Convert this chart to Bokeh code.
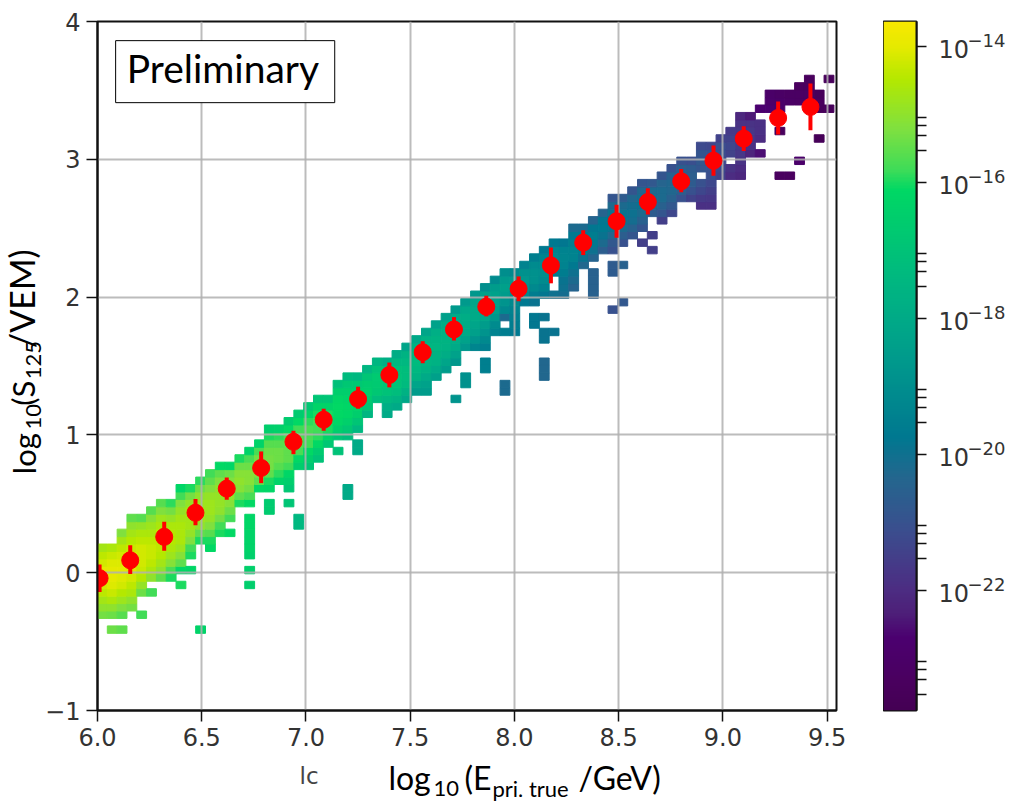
import numpy as np
from bokeh.core.properties import value
from bokeh.embed import file_html
from bokeh.layouts import column, row
from bokeh.models import BoxAnnotation, ColumnDataSource, FixedTicker, LinearColorMapper, NumeralTickFormatter
from bokeh.plotting import figure
from bokeh.resources import INLINE
from bokeh.transform import transform

# === Histogram bins === #
X_EDGE0, X_BIN = 6.0, 0.0471
Y_EDGE0, Y_BIN = -0.008, 0.054

# first (lowest) occupied row of every column, then log10(density) going up; None = empty bin
COL_FIRST_ROW = [-6, -6, -6, -5, -3, -3, -1, -1, 0, 0, 4, 3, 5, 5, 9, 9, 11, 11, 12, 11, 14, 14, 15, 17, 18,
                 18, 19, 21, 23, 21, 22, 23, 24, 24, 26, 27, 28, 30, 30, 30, 32, 32, 32, 36, 36, 37, 37, 37, 38, 41,
                 42, 43, 43, 44, 45, 46, 48, 47, 48, 50, 50, 49, 49, 53, 53, 53, 56, 56, 62, 62, 63, 63, 63, 62, 62]
COL_LOG = [
    [-15.3, -15.0, -14.7, -14.4, -14.2, -14.0, -14.0, -14.2, -14.4, -14.7],
    [-15.4, -15.0, -14.6, -14.3, -14.1, -14.0, -14.0, -14.1, -14.3, -14.6],
    [-15.6, -15.2, -14.8, -14.5, -14.2, -14.1, -14.0, -14.1, -14.2, -14.4, -14.7, -15.2],
    [-15.3, -15.0, -14.6, -14.4, -14.2, -14.1, -14.1, -14.1, -14.3, -14.5, -14.7, -15.0, -15.5],
    [-15.4, -14.9, -14.5, -14.3, -14.2, -14.2, -14.2, -14.4, -14.6, -14.9, -15.6],
    [-15.8, None, -15.0, -14.6, -14.4, -14.3, -14.3, -14.4, -14.6, -14.8, -15.1, -15.6],
    [-15.5, -15.0, -14.7, -14.5, -14.4, -14.4, -14.4, -14.6, -14.8, -15.2, -15.6],
    [-16.0, -15.7, -15.1, -14.8, -14.6, -14.5, -14.5, -14.6, -14.9, -15.3, -15.9],
    [-16.1, -15.5, -15.1, -14.8, -14.6, -14.6, -14.6, -14.7, -14.9, -15.2, -15.8, -16.2],
    [-16.2, None, -16.0, -15.8, -15.2, -14.9, -14.7, -14.7, -14.7, -14.9, -15.3, -16.0],
    [-16.0, -15.5, -15.0, -14.8, -14.8, -14.8, -15.0, -15.4, -15.9],
    [-16.1, -16.0, -15.6, -15.2, -14.9, -14.8, -14.8, -14.9, -15.2, -15.5, -15.8],
    [-16.0, -15.8, -15.3, -15.0, -14.9, -14.9, -15.0, -15.2, -15.5, -16.1],
    [-16.1, None, -15.8, -15.4, -15.1, -15.0, -15.0, -15.2, -15.4, -16.2],
    [-16.0, -15.5, -15.1, -15.0, -15.1, -15.4, -16.0],
    [-16.1, -15.7, -15.3, -15.1, -15.1, -15.4, -15.7, -16.3],
    [-16.1, -15.5, -15.2, -15.2, -15.3, -15.7, -16.3],
    [-16.2, -16.0, -15.5, -15.3, -15.3, -15.4, -15.6, -16.0, -16.5],
    [-16.3, -15.9, -15.6, -15.4, -15.4, -15.6, -15.9, -16.4],
    [-16.8, -16.5, -16.2, -15.8, -15.5, -15.5, -15.5, -15.7, -16.1, -16.6],
    [-16.5, -16.1, -15.7, -15.6, -15.6, -15.8, -16.1, -16.6],
    [-16.9, -16.5, -16.1, -15.8, -15.7, -15.7, -15.9, -16.2, -16.8],
    [-17.0, -16.6, -16.1, -15.9, -15.8, -15.8, -16.0, -16.3, -16.9],
    [-16.8, -16.3, -16.0, -16.0, -16.0, -16.3, -16.9],
    [-16.9, -16.5, -16.2, -16.1, -16.1, -16.2, -16.5, -17.1],
    [-17.2, -16.8, -16.4, -16.2, -16.2, -16.3, -16.5, -16.8, -17.3],
    [-17.4, -16.9, -16.5, -16.3, -16.3, -16.5, -16.8, -17.4],
    [-17.5, -16.9, -16.6, -16.5, -16.6, -16.9, -17.5],
    [-17.2, -16.8, -16.7, -16.7, -17.0, -17.5],
    [-18.0, -17.8, -17.4, -17.0, -16.9, -17.0, -17.2, -17.8],
    [-18.0, -17.6, -17.2, -17.0, -17.0, -17.1, -17.4, -17.9],
    [-18.1, -17.7, -17.3, -17.2, -17.2, -17.4, -17.6, -18.2],
    [-18.5, -18.2, -17.6, -17.4, -17.3, -17.4, -17.6, -18.1],
    [-18.5, -18.3, -18.0, -17.7, -17.5, -17.4, -17.5, -17.7, -18.2],
    [-18.4, -18.0, -17.7, -17.6, -17.5, -17.6, -17.8, -18.3],
    [-18.5, -18.2, -17.9, -17.7, -17.6, -17.7, -17.9, -18.4],
    [-18.7, -18.3, -18.0, -17.8, -17.8, -17.8, -18.0, -18.6],
    [-18.7, -18.3, -18.0, -17.9, -17.9, -18.1, -18.6],
    [-19.3, -18.8, -18.4, -18.2, -18.0, -18.0, -18.2, -18.7],
    [-19.5, -19.2, -18.8, -18.5, -18.2, -18.1, -18.2, -18.4, -19.0],
    [-19.4, -19.1, -18.7, -18.4, -18.3, -18.3, -18.5, -19.1],
    [-19.6, None, -20.2, -19.2, -18.8, -18.5, -18.4, -18.6, -19.0],
    [-19.7, -19.6, -19.5, -19.4, -19.2, -18.9, -18.6, -18.6, -19.2],
    [-19.7, -19.1, -18.8, -18.7, -18.9, -19.4],
    [-19.9, -19.6, -19.2, -18.9, -18.9, -19.1, -19.5],
    [-19.8, -19.4, -19.1, -19.0, -19.1, -19.3, -19.7],
    [-20.0, None, None, -19.6, -19.3, -19.2, -19.3, -19.7],
    [-20.1, -20.0, -19.9, -19.6, -19.4, -19.3, -19.4, -19.8],
    [-20.4, -20.2, -20.0, -19.7, -19.4, -19.4, -19.5, -19.7, -20.2],
    [-20.3, -19.9, -19.6, -19.5, -19.7, -20.2],
    [-20.4, -20.0, -19.7, -19.6, -19.8, -20.4],
    [-20.6, -20.2, -19.9, -19.7, -19.8, -20.4],
    [-21.0, -20.8, -20.3, -19.9, -19.8, -19.9, -20.2, -20.9],
    [-21.0, -20.6, -20.2, -19.9, -19.9, -20.2, -20.7],
    [-20.9, -20.5, -20.1, -20.0, -20.1, -20.3, -20.9],
    [-20.9, -20.5, -20.2, -20.0, -20.1, -20.3, -20.9],
    [-20.7, -20.3, -20.1, -20.2, -20.8],
    [-21.5, -20.9, -20.5, -20.2, -20.2, -20.4, -20.9],
    [-21.3, -20.8, -20.5, -20.3, -20.3, -20.5, -21.0],
    [-21.0, -20.6, -20.4, -20.4, -20.6, -21.0],
    [-21.4, -21.0, -20.7, -20.6, -20.7, -21.1],
    [-21.9, -21.6, -21.3, -21.0, None, -20.9, -20.8, -20.9, -21.2],
    [-21.9, -21.7, -21.5, -21.3, -21.1, -21.0, -21.0, -21.0, -21.3],
    [-21.4, -21.3, -21.2, -21.1, -21.1, -21.4],
    [-22.0, -21.8, None, -21.4, -21.3, -21.4, -21.6],
    [-22.1, -22.0, -21.8, -21.7, -21.6, -21.6, -21.7, -21.8, -22.1],
    [-22.2, -21.9, -21.7, -21.7, -21.8, -22.4],
    [-22.5, None, -22.0, -21.9, -21.9, None, -22.7],
    [-22.7, -22.9, -23.0],
    [-22.9, -23.0, -23.1],
    [-23.1, -23.2],
    [-23.2, -23.2, -23.3],
    [-23.2, -23.2, -23.3, -23.4],
    [-23.5, -23.4, -23.5],
    [-23.5],
]

# isolated bins below the band
STRAY_COL = [1, 2, 4, 8, 10, 15, 15, 15, 15, 15, 15, 15, 15, 17, 17, 19, 20, 20, 24, 25, 25, 26, 26,
             36, 37, 37, 39, 39, 41, 41, 44, 44, 45, 45, 46, 45, 45, 45, 45, 50, 50, 50, 50,
             52, 52, 53, 52, 53, 55, 56, 56, 69, 71, 69, 70, 73, 74]
STRAY_ROW = [-8, -8, -6, -2, -8, -2, 0, 2, 3, 4, 5, 6, 7, 8, 9, 9, 6, 7, 16, 10, 11, 16, 17,
             23, 25, 26, 27, 28, 24, 25, 33, 34, 34, 32, 32, 31, 26, 27, 28, 37, 38, 39, 40,
             40, 41, 41, 35, 36, 44, 45, 43, 59, 55, 53, 53, 58, 66]
STRAY_LOG = [-15.4, -15.5, -15.8, -16.0, -16.3, -16.5, -16.4, -16.4, -16.3, -16.3, -16.3, -16.2, -16.2,
             -16.6, -16.6, -16.9, -17.4, -17.4, -17.0, -18.0, -18.0, -18.0, -18.0,
             -18.8, -18.9, -18.9, -19.5, -19.5, -20.2, -20.2, -19.8, -19.8, -19.9, -19.9, -19.9, -19.9,
             -20.3, -20.3, -20.3, -20.5, -20.5, -20.5, -20.5,
             -20.7, -20.7, -20.5, -21.0, -20.8, -21.5, -21.5, -21.5, -23.4, -22.9, -23.3, -23.3, -23.6, -23.5]

# profile points with their spread
POINT_X = [6.01, 6.157, 6.32, 6.47, 6.62, 6.785, 6.94, 7.085, 7.25, 7.40, 7.56, 7.71, 7.865, 8.02, 8.175, 8.33,
           8.49, 8.64, 8.80, 8.955, 9.10, 9.265, 9.42]
POINT_Y = [-0.04, 0.09, 0.26, 0.435, 0.61, 0.76, 0.95, 1.11, 1.26, 1.435, 1.60, 1.765, 1.93, 2.06, 2.23, 2.395,
           2.55, 2.69, 2.84, 2.99, 3.15, 3.30, 3.38]
ERR_UP = [0.10, 0.11, 0.11, 0.10, 0.08, 0.12, 0.08, 0.08, 0.09, 0.09, 0.08, 0.09, 0.08, 0.09, 0.13, 0.09,
          0.12, 0.10, 0.09, 0.11, 0.09, 0.12, 0.17]
ERR_DOWN = [0.10, 0.10, 0.10, 0.09, 0.08, 0.11, 0.09, 0.08, 0.07, 0.09, 0.08, 0.08, 0.07, 0.09, 0.13, 0.09,
            0.12, 0.09, 0.08, 0.11, 0.09, 0.12, 0.17]

X_TICKS = [6.0, 6.5, 7.0, 7.5, 8.0, 8.5, 9.0, 9.5]
Y_TICKS = [-1, 0, 1, 2, 3, 4]

# colour bar
CB_LOW, CB_HIGH = -23.76, -13.63
CB_DECADES = [-14, -16, -18, -20, -22]
CB_EXP_LABELS = ["\u221214", "\u221216", "\u221218", "\u221220", "\u221222"]
CB_MINOR = [-15.523, -15.301, -15.155, -15.046, -17.523, -17.301, -17.155, -17.046,
            -19.523, -19.301, -19.155, -19.046, -21.523, -21.301, -21.155, -21.046,
            -23.523, -23.301, -23.155, -23.046]
CMAP_POS = [-23.76, -23.3, -22.7, -22.35, -22.0, -21.6, -21.1, -20.35, -19.75, -18.6, -18.1, -17.4, -16.1, -15.8,
            -15.2, -14.46, -14.0, -13.63]
CMAP_HEX = ["#440054", "#4a0060", "#4b0070", "#4d1f78", "#4c2c82", "#453b88", "#3a4f8e", "#24668e", "#007890",
            "#009a8c", "#00a888", "#00b880", "#00d864", "#3edc58", "#7fe040", "#b4e800", "#e4ea00", "#f8e800"]

rgb = np.array([[int(h[k:k + 2], 16) for k in (1, 3, 5)] for h in CMAP_HEX], dtype=float)
grid_pos = np.linspace(CB_LOW, CB_HIGH, 256)
palette = ["#%02x%02x%02x" % tuple(int(round(np.interp(v, CMAP_POS, rgb[:, c]))) for c in range(3)) for v in grid_pos]
mapper = LinearColorMapper(palette=palette, low=CB_LOW, high=CB_HIGH)

cols, rows, logs = [], [], []
for i, (first, vals) in enumerate(zip(COL_FIRST_ROW, COL_LOG)):
    for k, v in enumerate(vals):
        if v is not None:
            cols.append(i), rows.append(first + k), logs.append(v)
cols += STRAY_COL
rows += STRAY_ROW
logs += STRAY_LOG
cols, rows = np.array(cols), np.array(rows)

source_cells = ColumnDataSource(dict(
    left=X_EDGE0 + cols * X_BIN, right=X_EDGE0 + (cols + 1) * X_BIN,
    bottom=Y_EDGE0 + rows * Y_BIN, top=Y_EDGE0 + (rows + 1) * Y_BIN, log=logs))


def text_strip(width, height, x_range, y_range, **kwargs):
    """Blank figure that only carries text outside the main frame."""
    strip = figure(width=width, height=height, x_range=x_range, y_range=y_range, x_axis_type=None, y_axis_type=None,
                   output_backend="svg", toolbar_location=None, min_border=0, **kwargs)
    strip.outline_line_color = None
    strip.grid.visible = False
    return strip


def put(fig, text, x, y, size, color="black", font="Lato", **kwargs):
    fig.text(x=[x], y=[y], text=[text], text_font=value(font), text_font_size=size, text_color=color,
             text_baseline="alphabetic", **kwargs)


# === Main panel === #
p = figure(frame_width=739, frame_height=689, x_range=(6.0, 9.545), y_range=(-1, 4), output_backend="svg",
           toolbar_location=None, min_border_left=55, min_border_right=47, min_border_top=21, min_border_bottom=45,
           background_fill_color="white", border_fill_color="white")
p.outline_line_color = "#111111"
p.outline_line_width = 2

p.quad(left="left", right="right", bottom="bottom", top="top", source=source_cells, level="image",
       fill_color=transform("log", mapper), line_color=transform("log", mapper), line_width=1)

p.xaxis.ticker = FixedTicker(ticks=X_TICKS)
p.xaxis.formatter = NumeralTickFormatter(format="0.0")
p.yaxis.ticker = FixedTicker(ticks=Y_TICKS)
p.yaxis.major_label_overrides = {-1: "\u22121"}
for ax in (p.xaxis[0], p.yaxis[0]):
    ax.axis_line_color = "#111111"
    ax.axis_line_width = 2
    ax.major_tick_line_color = "#111111"
    ax.major_tick_line_width = 1.5
    ax.major_tick_in = 0
    ax.major_tick_out = 11
    ax.minor_tick_line_color = None
    ax.major_label_text_font = "DejaVu Sans"
    ax.major_label_text_font_size = "24px"
    ax.major_label_text_color = "#333333"
p.xaxis.major_label_standoff = 6
p.yaxis.major_label_standoff = 6
p.grid.grid_line_color = "#b0b0b0"
p.grid.grid_line_width = 2
p.grid.grid_line_alpha = 0.85

y_arr, up, down = np.array(POINT_Y), np.array(ERR_UP), np.array(ERR_DOWN)
source_points = ColumnDataSource(dict(x=POINT_X, y=POINT_Y, y0=y_arr - down, y1=y_arr + up))
p.segment(x0="x", y0="y0", x1="x", y1="y1", line_color="#ff0000", line_width=4, source=source_points)
p.scatter(x="x", y="y", size=17, fill_color="#ff0000", line_color="#ff0000", source=source_points)

p.add_layout(BoxAnnotation(left=6.087, right=7.138, bottom=3.411, top=3.861, fill_color="white", fill_alpha=1,
                           line_color="black", line_alpha=1, line_width=1))
put(p, "Preliminary", 6.14, 3.665, "39px", level="overlay")

# === y label strip, rotated pieces === #
y_strip = text_strip(42, 755, (0, 42), (755, 0))
put(y_strip, "log", 23, 496, "31px", angle=90, angle_units="deg")
put(y_strip, "10", 33, 447, "22px", angle=90, angle_units="deg")
put(y_strip, "(S", 22, 421, "31px", angle=90, angle_units="deg")
put(y_strip, "125", 33, 392, "22px", angle=90, angle_units="deg")
put(y_strip, "/VEM)", 21, 358, "34px", angle=90, angle_units="deg")

# === x label strip, normal and subscript pieces === #
x_strip = text_strip(1010, 48, (0, 1010), (48, 0))
put(x_strip, "lc", 299, 20, "23px", color="#444444", font="DejaVu Sans")
put(x_strip, "log", 388, 22, "32px")
put(x_strip, "10", 433, 33, "22px")
put(x_strip, "(E", 464, 22, "32px")
put(x_strip, "pri. true", 492, 33, "22px")
put(x_strip, "/GeV)", 578, 22, "32px")

# === Colour bar === #
cb = figure(frame_width=33, frame_height=689, x_range=(0, 1), y_range=(CB_LOW, CB_HIGH), output_backend="svg",
            toolbar_location=None, min_border_left=0, min_border_right=12, min_border_top=21, min_border_bottom=45,
            y_axis_location="right", background_fill_color="white", border_fill_color="white")
cb.xaxis.visible = False
cb.grid.visible = False
cb.outline_line_color = "#111111"
cb.outline_line_width = 2
cb.image(image=[np.linspace(CB_LOW, CB_HIGH, 256).reshape(256, 1)], x=0, y=CB_LOW, dw=1, dh=CB_HIGH - CB_LOW,
         color_mapper=mapper)
cb.yaxis.ticker = FixedTicker(ticks=CB_DECADES, minor_ticks=CB_MINOR)
cb.yaxis.major_label_text_font_size = "0px"
cb.yaxis.major_label_text_color = None
cb.yaxis.axis_line_color = "#111111"
cb.yaxis.axis_line_width = 2
cb.yaxis.major_tick_line_color = "#111111"
cb.yaxis.major_tick_line_width = 1.5
cb.yaxis.major_tick_in = 0
cb.yaxis.major_tick_out = 10
cb.yaxis.minor_tick_line_color = "#111111"
cb.yaxis.minor_tick_line_width = 1.5
cb.yaxis.minor_tick_in = 0
cb.yaxis.minor_tick_out = 10

cb_strip = figure(frame_width=82, frame_height=689, x_range=(0, 82), y_range=(CB_LOW, CB_HIGH), x_axis_type=None,
                  y_axis_type=None, output_backend="svg", toolbar_location=None, min_border_left=0, min_border_right=0,
                  min_border_top=21, min_border_bottom=45)
cb_strip.outline_line_color = None
cb_strip.grid.visible = False
n = len(CB_DECADES)
source_cb = ColumnDataSource(dict(x=[10] * n, y=CB_DECADES, base=["10"] * n, exp=CB_EXP_LABELS))
cb_strip.text(x="x", y="y", text="base", source=source_cb, y_offset=2, text_font=value("DejaVu Sans"),
              text_font_size="24px", text_color="#333333", text_baseline="alphabetic")
cb_strip.text(x="x", y="y", text="exp", source=source_cb, x_offset=29, y_offset=-6, text_font=value("DejaVu Sans"),
              text_font_size="18px", text_color="#333333", text_baseline="alphabetic")

layout = column(row(y_strip, p, cb, cb_strip, spacing=0), x_strip, spacing=0)
open("out.html", "w").write(file_html(layout, INLINE))
